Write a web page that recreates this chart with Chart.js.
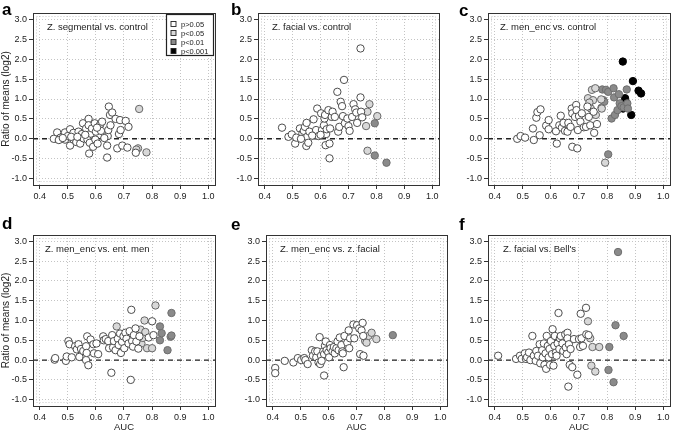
<!DOCTYPE html>
<html><head><meta charset="utf-8">
<script src="https://cdn.jsdelivr.net/npm/chart.js@4.4.1/dist/chart.umd.min.js"></script>
<style>
html,body{margin:0;padding:0;background:#fff;}
#wrap{position:relative;width:685px;height:438px;overflow:hidden;background:#fff;}
#wrap canvas{position:absolute;}
</style></head><body><div id="wrap"></div>
<script>
// ---------- tick labels / categories ----------
const xTicks = [0.4, 0.5, 0.6, 0.7, 0.8, 0.9, 1.0];
const yTicks = [-1.0, -0.5, 0.0, 0.5, 1.0, 1.5, 2.0, 2.5, 3.0];
const groupLabels = ['p>0.05', 'p<0.05', 'p<0.01', 'p<0.001'];
const panelLetters = ['a', 'b', 'c', 'd', 'e', 'f'];
const panelTitles = ['Z. segmental vs. control', 'Z. facial vs. control', 'Z. men_enc vs. control',
                     'Z. men_enc vs. ent. men', 'Z. men_enc vs. z. facial', "Z. facial vs. Bell's"];
const yAxisTitle = 'Ratio of means (log2)';
const xAxisTitle = 'AUC';

// ---------- data: [AUC, ratio of means (log2)] ----------
const a_ns = [[0.458,0.0],[0.462,0.16],[0.474,0.03],[0.49,0.16],[0.49,-0.02],[0.50,0.07],[0.508,0.24],[0.508,-0.17],[0.52,0.15],[0.52,-0.02],[0.53,-0.08],[0.538,0.18],[0.544,-0.12],[0.55,0.12],[0.554,0.39],[0.556,0.01],[0.565,0.26],[0.57,-0.02],[0.574,0.5],[0.574,0.34],[0.576,-0.37],[0.578,-0.1],[0.582,0.13],[0.586,0.26],[0.59,-0.2],[0.596,0.39],[0.598,-0.02],[0.60,0.18],[0.606,-0.12],[0.612,0.32],[0.616,0.37],[0.622,0.43],[0.618,0.2],[0.64,-0.17],[0.64,-0.47],[0.642,0.07],[0.644,0.22],[0.646,0.81],[0.65,0.6],[0.652,0.34],[0.658,0.66],[0.67,0.5],[0.676,-0.24],[0.682,0.12],[0.686,0.47],[0.688,0.22],[0.694,-0.17],[0.706,0.45],[0.712,-0.22],[0.716,0.3],[0.742,-0.35],[0.45,0.0],[0.468,-0.03],[0.482,0.02],[0.512,0.05],[0.534,0.05],[0.562,0.1],[0.604,0.28],[0.63,0.02]];
const a_p05 = [[0.754,0.75],[0.75,-0.24],[0.78,-0.34],[0.744,-0.27]];
const a_p01 = [];
const a_p001 = [];

const b_ns = [[0.462,0.28],[0.485,0.05],[0.497,0.11],[0.509,-0.12],[0.513,0.03],[0.526,0.26],[0.535,0.13],[0.54,0.2],[0.544,0.3],[0.549,-0.18],[0.55,0.4],[0.552,0.05],[0.556,-0.1],[0.56,0.18],[0.575,0.49],[0.584,0.22],[0.588,0.76],[0.593,0.07],[0.602,0.64],[0.605,0.22],[0.612,0.34],[0.614,0.51],[0.616,0.6],[0.618,-0.16],[0.62,0.12],[0.622,0.24],[0.628,0.72],[0.632,-0.12],[0.632,-0.49],[0.634,0.26],[0.64,0.55],[0.643,0.68],[0.651,0.55],[0.66,1.18],[0.663,0.18],[0.667,0.3],[0.672,0.93],[0.677,0.82],[0.68,0.57],[0.684,1.48],[0.687,0.39],[0.696,0.51],[0.7,0.32],[0.704,0.2],[0.713,0.55],[0.718,0.87],[0.724,0.74],[0.728,0.66],[0.731,0.4],[0.743,2.27],[0.743,1.04],[0.745,0.68],[0.749,0.54],[0.57,0.08],[0.53,0.0],[0.6,0.1]];
const b_p05 = [[0.768,-0.3],[0.763,0.32],[0.775,0.87],[0.768,0.68],[0.803,0.57]];
const b_p01 = [[0.794,0.39],[0.794,-0.42],[0.836,-0.6]];
const b_p001 = [];

const c_ns = [[0.48,0.0],[0.492,0.07],[0.508,0.03],[0.536,0.26],[0.539,-0.03],[0.548,0.53],[0.552,0.67],[0.56,0.09],[0.563,0.74],[0.583,0.33],[0.592,0.47],[0.592,0.24],[0.618,0.19],[0.621,-0.12],[0.63,0.34],[0.635,0.58],[0.639,0.28],[0.645,0.4],[0.65,0.2],[0.659,0.18],[0.662,0.4],[0.67,0.3],[0.674,0.76],[0.676,0.64],[0.676,-0.2],[0.686,0.55],[0.69,0.85],[0.691,0.72],[0.694,-0.24],[0.696,0.22],[0.7,0.57],[0.705,0.43],[0.71,0.64],[0.717,0.29],[0.725,0.3],[0.73,0.81],[0.735,0.55],[0.74,0.34],[0.752,0.68],[0.754,0.15],[0.764,0.37]];
const c_p05 = [[0.732,1.02],[0.746,1.23],[0.75,0.97],[0.758,1.27],[0.779,0.99],[0.781,0.76],[0.793,-0.6],[0.737,0.91],[0.742,0.76],[0.76,0.6]];
const c_p01 = [[0.783,1.24],[0.787,0.97],[0.79,0.93],[0.796,1.23],[0.804,1.18],[0.804,-0.39],[0.816,0.51],[0.823,1.27],[0.825,1.04],[0.828,0.6],[0.837,0.72],[0.842,1.12],[0.845,0.89],[0.851,0.82],[0.859,0.79],[0.87,1.24],[0.872,0.89],[0.874,0.76],[0.78,0.78]];
const c_p001 = [[0.856,1.94],[0.857,0.76],[0.864,1.02],[0.892,1.45],[0.886,0.6],[0.912,1.21],[0.921,1.14]];

const d_ns = [[0.453,0.01],[0.455,0.05],[0.493,-0.02],[0.496,0.09],[0.502,0.48],[0.506,0.4],[0.514,0.07],[0.526,0.35],[0.532,0.27],[0.538,0.4],[0.541,0.08],[0.547,0.28],[0.555,0.23],[0.565,0.35],[0.565,0.0],[0.567,0.18],[0.569,0.6],[0.573,-0.13],[0.581,0.52],[0.591,0.4],[0.593,0.17],[0.602,0.42],[0.608,0.15],[0.626,0.6],[0.628,0.5],[0.635,0.53],[0.644,0.48],[0.647,0.3],[0.655,-0.32],[0.658,0.63],[0.661,0.32],[0.664,0.48],[0.67,0.25],[0.678,0.54],[0.681,0.38],[0.686,0.67],[0.689,0.18],[0.693,0.46],[0.698,0.6],[0.701,0.3],[0.705,0.69],[0.709,0.54],[0.716,0.42],[0.72,0.73],[0.724,-0.5],[0.726,1.27],[0.729,0.48],[0.732,0.34],[0.735,0.63],[0.741,0.8],[0.744,0.47],[0.751,0.29],[0.755,0.6],[0.788,0.57],[0.8,0.98],[0.805,0.63]];
const d_p05 = [[0.674,0.85],[0.759,0.77],[0.762,0.42],[0.767,0.56],[0.773,1.0],[0.776,0.71],[0.782,0.3],[0.8,0.3],[0.812,1.38]];
const d_p01 = [[0.828,0.85],[0.828,0.5],[0.834,0.68],[0.855,0.25],[0.869,1.19],[0.866,0.59],[0.869,0.62]];
const d_p001 = [];

const e_ns = [[0.409,-0.2],[0.409,-0.33],[0.443,-0.02],[0.474,-0.06],[0.49,0.05],[0.502,0.0],[0.513,0.05],[0.517,0.0],[0.525,-0.1],[0.54,0.25],[0.544,0.11],[0.552,0.22],[0.556,0.07],[0.56,0.22],[0.564,-0.06],[0.568,0.58],[0.57,-0.1],[0.573,0.11],[0.575,-0.02],[0.581,0.22],[0.584,0.15],[0.584,-0.39],[0.587,0.36],[0.59,0.47],[0.593,0.25],[0.599,0.19],[0.602,0.07],[0.605,0.38],[0.607,0.3],[0.614,0.22],[0.619,0.33],[0.622,0.17],[0.628,0.3],[0.632,0.47],[0.636,0.25],[0.64,0.57],[0.646,0.38],[0.649,0.22],[0.651,0.17],[0.654,-0.18],[0.657,0.61],[0.667,0.44],[0.672,0.75],[0.674,0.3],[0.677,0.55],[0.689,0.9],[0.692,0.55],[0.702,0.88],[0.71,0.8],[0.713,0.15],[0.718,0.75],[0.722,0.94],[0.724,0.61],[0.725,0.11]];
const e_p05 = [[0.731,0.48],[0.736,0.44],[0.743,0.61],[0.754,0.69],[0.771,0.53]];
const e_p01 = [[0.83,0.63]];
const e_p001 = [];

const f_ns = [[0.412,0.11],[0.476,0.03],[0.49,0.11],[0.496,0.03],[0.507,0.17],[0.511,0.03],[0.515,0.07],[0.522,0.19],[0.527,0.0],[0.534,0.61],[0.539,0.11],[0.546,-0.02],[0.548,0.23],[0.554,0.11],[0.56,0.4],[0.562,-0.08],[0.569,0.25],[0.571,0.07],[0.575,0.42],[0.577,-0.12],[0.581,0.17],[0.583,-0.22],[0.585,0.61],[0.589,0.36],[0.592,0.07],[0.595,0.28],[0.597,-0.12],[0.6,0.48],[0.604,0.15],[0.606,0.78],[0.609,-0.14],[0.612,0.36],[0.614,0.61],[0.618,0.19],[0.62,0.11],[0.624,0.42],[0.627,1.19],[0.63,0.28],[0.632,0.55],[0.635,0.61],[0.641,0.42],[0.644,0.23],[0.651,0.65],[0.653,0.32],[0.656,0.15],[0.659,0.69],[0.659,0.55],[0.662,-0.67],[0.664,0.4],[0.667,-0.12],[0.67,0.28],[0.676,-0.18],[0.682,0.53],[0.694,-0.37],[0.7,0.53],[0.704,0.33],[0.706,1.17],[0.709,0.55],[0.714,0.36],[0.725,1.32],[0.726,0.65],[0.734,0.63]];
const f_p05 = [[0.732,0.98],[0.74,0.55],[0.744,-0.14],[0.748,0.33],[0.758,-0.29],[0.772,0.33]];
const f_p01 = [[0.808,0.33],[0.805,-0.25],[0.823,-0.56],[0.83,0.88],[0.839,2.73],[0.859,0.61]];
const f_p001 = [];

const panelSeries = [
  [a_ns, a_p05, a_p01, a_p001],
  [b_ns, b_p05, b_p01, b_p001],
  [c_ns, c_p05, c_p01, c_p001],
  [d_ns, d_p05, d_p01, d_p001],
  [e_ns, e_p05, e_p01, e_p001],
  [f_ns, f_p05, f_p01, f_p001]
];

// ---------- layout & style (not data) ----------
const X_MIN = 0.376, X_MAX = 1.024, Y_MIN = -1.16, Y_MAX = 3.16;
const FONT = '"Liberation Sans", Arial, Helvetica, sans-serif';
const geom = [
  {left:0,   top:0,   w:228, h:220, yW:33, padT:13, padR:13, xH:35, lx:2, ly:15, tx:14},
  {left:228, top:0,   w:228, h:220, yW:30, padT:13, padR:17, xH:35, lx:3, ly:15, tx:14},
  {left:456, top:0,   w:229, h:220, yW:32, padT:13, padR:15, xH:35, lx:3, ly:16, tx:12},
  {left:0,   top:216, w:228, h:222, yW:33, padT:19, padR:13, xH:32, lx:2, ly:13, tx:12},
  {left:228, top:216, w:228, h:222, yW:38, padT:19, padR:9,  xH:32, lx:3, ly:14, tx:14},
  {left:456, top:216, w:229, h:222, yW:32, padT:19, padR:15, xH:32, lx:3, ly:14, tx:15}
];
const groupStyle = [
  {bg:'#ffffff', border:'#4d4d4d'},
  {bg:'#d8d8d8', border:'#666666'},
  {bg:'#8a8a8a', border:'#6e6e6e'},
  {bg:'#000000', border:'#000000'}
];

Chart.defaults.font.family = FONT;
Chart.defaults.color = '#222';

const deco = {
  id: 'deco',
  beforeDatasetsDraw(chart, args, o) {
    const {ctx, chartArea: ca} = chart;
    ctx.save();
    ctx.strokeStyle = '#c8c8c8';
    ctx.lineWidth = 1;
    ctx.setLineDash([1, 2]);
    ctx.strokeRect(Math.round(ca.left) + 3.5, Math.round(ca.top) + 3.5,
                   Math.round(ca.right - ca.left) - 7, Math.round(ca.bottom - ca.top) - 7);
    ctx.restore();
  },
  afterDraw(chart, args, o) {
    const {ctx, chartArea: ca} = chart;
    ctx.save();
    ctx.strokeStyle = '#333';
    ctx.lineWidth = 1;
    ctx.setLineDash([]);
    ctx.strokeRect(Math.round(ca.left) + 0.5, Math.round(ca.top) + 0.5,
                   Math.round(ca.right - ca.left), Math.round(ca.bottom - ca.top));
    // panel letter
    ctx.fillStyle = '#000';
    ctx.textBaseline = 'alphabetic';
    ctx.textAlign = 'left';
    ctx.font = 'bold 17px ' + FONT;
    ctx.fillText(o.letter, o.lx, o.ly);
    // panel title
    ctx.fillStyle = '#222';
    ctx.font = '9.5px ' + FONT;
    ctx.textBaseline = 'middle';
    ctx.fillText(o.title, ca.left + o.tx, ca.top + 14);
    // legend
    if (o.legend) {
      const lw = 47, lh = 41;
      const lx = Math.round(ca.right) - lw - 2, ly = Math.round(ca.top) + 1;
      ctx.fillStyle = '#fff';
      ctx.fillRect(lx, ly, lw, lh);
      ctx.strokeStyle = '#222';
      ctx.lineWidth = 1.2;
      ctx.strokeRect(lx + 0.5, ly + 0.5, lw, lh);
      ctx.font = '7.5px ' + FONT;
      groupLabels.forEach((t, i) => {
        const cy = ly + 10 + i * 9;
        ctx.fillStyle = groupStyle[i].bg;
        ctx.fillRect(lx + 5, cy - 2.5, 5, 5);
        ctx.strokeStyle = '#222';
        ctx.lineWidth = 0.9;
        ctx.strokeRect(lx + 5, cy - 2.5, 5, 5);
        ctx.fillStyle = '#222';
        ctx.fillText(t, lx + 15, cy + 0.5);
      });
    }
    ctx.restore();
  }
};

const wrap = document.getElementById('wrap');
panelSeries.forEach((series, p) => {
  const g = geom[p];
  const cv = document.createElement('canvas');
  cv.width = g.w; cv.height = g.h;
  cv.style.left = g.left + 'px'; cv.style.top = g.top + 'px';
  cv.style.width = g.w + 'px'; cv.style.height = g.h + 'px';
  wrap.appendChild(cv);
  const datasets = [{
    type: 'line',
    label: 'zero',
    data: [{x: X_MIN, y: 0}, {x: X_MAX, y: 0}],
    borderColor: '#222',
    borderWidth: 1.4,
    borderDash: [5, 4],
    pointRadius: 0,
    fill: false,
    order: 10
  }];
  series.forEach((pts, i) => {
    datasets.push({
      type: 'scatter',
      label: groupLabels[i],
      data: pts.map(v => ({x: v[0], y: v[1]})),
      backgroundColor: groupStyle[i].bg,
      borderColor: groupStyle[i].border,
      borderWidth: 1,
      pointRadius: 3.7,
      order: 1
    });
  });
  const isBottom = p >= 3, isLeft = (p % 3) === 0;
  new Chart(cv, {
    type: 'scatter',
    data: {datasets},
    options: {
      responsive: false,
      animation: false,
      devicePixelRatio: 1,
      layout: {padding: {top: g.padT, right: g.padR, left: 0, bottom: 0}},
      plugins: {
        legend: {display: false},
        tooltip: {enabled: false},
        deco: {letter: panelLetters[p], title: panelTitles[p], legend: p === 0, lx: g.lx, ly: g.ly, tx: g.tx}
      },
      scales: {
        x: {
          type: 'linear', min: X_MIN, max: X_MAX,
          afterBuildTicks: s => { s.ticks = xTicks.map(v => ({value: v})); },
          afterFit: s => { s.height = g.xH; },
          ticks: {font: {size: 9}, color: '#222', padding: 2, maxRotation: 0, autoSkip: false,
                  callback: v => Number(v).toFixed(1)},
          grid: {color: '#c4c4c4', lineWidth: 1, drawTicks: true, tickLength: 4, tickColor: '#333', tickWidth: 1},
          border: {display: false, dash: [1, 2]},
          title: {display: isBottom, text: xAxisTitle, font: {size: 9.5}, color: '#222', padding: {top: 0, bottom: 5}}
        },
        y: {
          type: 'linear', min: Y_MIN, max: Y_MAX,
          afterBuildTicks: s => { s.ticks = yTicks.map(v => ({value: v})); },
          afterFit: s => { s.width = g.yW; },
          ticks: {font: {size: 9}, color: '#222', padding: 2, autoSkip: false,
                  callback: v => Number(v).toFixed(1)},
          grid: {color: '#c4c4c4', lineWidth: 1, drawTicks: true, tickLength: 4, tickColor: '#333', tickWidth: 1},
          border: {display: false, dash: [1, 2]},
          title: {display: isLeft, text: yAxisTitle, font: {size: 10}, color: '#222', padding: 0}
        }
      }
    },
    plugins: [deco]
  });
});
</script>
</body></html>
